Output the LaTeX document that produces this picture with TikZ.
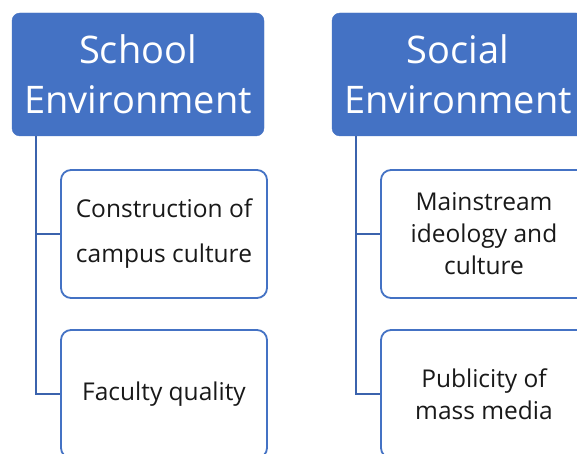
\documentclass[tikz,border=0pt]{standalone}
\usepackage{fontspec}
\setmainfont{Open Sans}
\usetikzlibrary{positioning}

\begin{document}
\begin{tikzpicture}[
    x=1pt, y=-1pt,
    headbox/.style={rounded corners=8pt, fill=headblue, draw=headblue, minimum width=252pt, minimum height=123pt, align=center, text=white, font=\fontsize{38}{50}\selectfont},
    itembox/.style={rounded corners=10pt, draw=headblue, line width=1.8pt, fill=white, minimum width=206pt, minimum height=128pt, align=center, text=black!90, font=\fontsize{24.5}{32}\selectfont},
    connector/.style={draw=lineblue, line width=2pt}
  ]
    \definecolor{headblue}{HTML}{4472C4}
    \definecolor{lineblue}{HTML}{3B63AD}
    \clip (0,0) rectangle (577,454);
    \fill[white] (0,0) rectangle (577,454);

    % School Environment
    \node[headbox] (schoolHead) at (138,74.5) {School\\Environment};
    \node[itembox] (campusBox) at (164,234) {Construction of\\[13pt]campus culture};
    \node[itembox] (facultyBox) at (164,394) {Faculty quality};

    % Social Environment
    \node[headbox] (socialHead) at (458,74.5) {Social\\Environment};
    \node[itembox] (ideologyBox) at (484,234) {Mainstream\\ideology and\\culture};
    \node[itembox] (mediaBox) at (484,394) {Publicity of\\mass media};

    % Conectores
    \coordinate (schoolTrunk) at ([xshift=24pt]schoolHead.south west);
    \coordinate (socialTrunk) at ([xshift=24pt]socialHead.south west);
    \draw[connector] (schoolTrunk) |- (facultyBox.west);
    \draw[connector] (schoolTrunk |- campusBox.west) -- (campusBox.west);
    \draw[connector] (socialTrunk) |- (mediaBox.west);
    \draw[connector] (socialTrunk |- ideologyBox.west) -- (ideologyBox.west);
\end{tikzpicture}
\end{document}
